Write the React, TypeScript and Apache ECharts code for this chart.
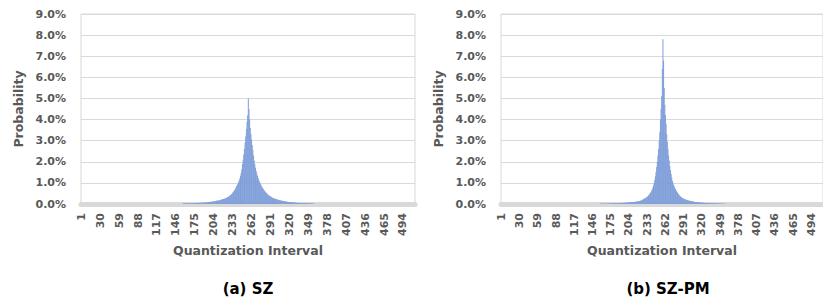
import React, { useEffect, useRef } from "react";
import * as echarts from "echarts";

// Category axis: quantization intervals 1..512
const categories: string[] = Array.from({ length: 512 }, (_, i) => String(i + 1));

// (a) SZ: probabilities (%) starting at category szStart
const szStart = 157;
const szValues = [
  0.02, 0.03, 0.02, 0.03, 0.03, 0.02, 0.03, 0.03, 0.04, 0.03,
  0.04, 0.03, 0.04, 0.04, 0.03, 0.04, 0.05, 0.04, 0.04, 0.05,
  0.05, 0.04, 0.05, 0.05, 0.06, 0.05, 0.05, 0.06, 0.06, 0.05,
  0.06, 0.07, 0.06, 0.07, 0.07, 0.08, 0.07, 0.08, 0.08, 0.09,
  0.10, 0.10, 0.11, 0.11, 0.12, 0.11, 0.12, 0.13, 0.13, 0.14,
  0.14, 0.15, 0.15, 0.16, 0.17, 0.17, 0.18, 0.19, 0.20, 0.21,
  0.22, 0.23, 0.24, 0.25, 0.26, 0.27, 0.29, 0.30, 0.32, 0.34,
  0.36, 0.38, 0.40, 0.43, 0.46, 0.49, 0.53, 0.57, 0.61, 0.66,
  0.72, 0.78, 0.84, 0.90, 0.96, 1.03, 1.12, 1.22, 1.34, 1.48,
  1.65, 1.90, 2.10, 2.35, 2.60, 2.90, 3.20, 3.55, 3.90, 4.20,
  5.00,
  4.50, 4.00, 3.60, 3.30, 3.05, 2.80, 2.55, 2.30, 2.05, 1.88,
  1.72, 1.58, 1.45, 1.34, 1.24, 1.15, 1.07, 1.00, 0.93, 0.87,
  0.81, 0.76, 0.71, 0.66, 0.62, 0.58, 0.54, 0.51, 0.48, 0.45,
  0.42, 0.40, 0.38, 0.36, 0.34, 0.32, 0.30, 0.29, 0.27, 0.26,
  0.25, 0.24, 0.23, 0.22, 0.21, 0.20, 0.19, 0.18, 0.17, 0.16,
  0.16, 0.15, 0.14, 0.14, 0.13, 0.13, 0.12, 0.12, 0.11, 0.11,
  0.10, 0.10, 0.09, 0.09, 0.09, 0.08, 0.08, 0.08, 0.07, 0.07,
  0.07, 0.06, 0.06, 0.06, 0.06, 0.05, 0.05, 0.05, 0.05, 0.05,
  0.04, 0.04, 0.05, 0.04, 0.04, 0.04, 0.03, 0.04, 0.03, 0.03,
  0.03, 0.03, 0.03, 0.02, 0.03, 0.02, 0.02, 0.02, 0.02, 0.02,
];

// (b) SZ-PM: probabilities (%) starting at category pmStart
const pmStart = 158;
const pmValues = [
  0.01, 0.01, 0.02, 0.01, 0.01, 0.02, 0.01, 0.02, 0.02, 0.01,
  0.02, 0.02, 0.01, 0.02, 0.02, 0.02, 0.03, 0.02, 0.02, 0.03,
  0.03, 0.02, 0.03, 0.03, 0.03, 0.03, 0.04, 0.03, 0.04, 0.04,
  0.04, 0.04, 0.05, 0.04, 0.05, 0.05, 0.05, 0.06, 0.05, 0.06,
  0.06, 0.06, 0.07, 0.06, 0.07, 0.07, 0.08, 0.07, 0.08, 0.08,
  0.09, 0.08, 0.09, 0.10, 0.10, 0.11, 0.10, 0.11, 0.12, 0.12,
  0.12, 0.13, 0.13, 0.14, 0.15, 0.16, 0.17, 0.19, 0.21, 0.23,
  0.25, 0.26, 0.28, 0.30, 0.32, 0.34, 0.37, 0.40, 0.44, 0.48,
  0.52, 0.57, 0.63, 0.70, 0.78, 0.88, 1.00, 1.15, 1.32, 1.52,
  1.75, 2.00, 2.30, 2.60, 3.00, 3.40, 4.00, 4.50, 5.10, 6.40,
  7.80,
  6.80, 5.50, 4.70, 4.20, 3.80, 3.30, 2.95, 2.60, 2.30, 2.05,
  1.80, 1.60, 1.42, 1.25, 1.10, 1.00, 0.91, 0.83, 0.76, 0.70,
  0.64, 0.59, 0.54, 0.50, 0.46, 0.42, 0.39, 0.36, 0.33, 0.31,
  0.29, 0.27, 0.25, 0.24, 0.22, 0.21, 0.20, 0.19, 0.18, 0.17,
  0.16, 0.15, 0.15, 0.14, 0.13, 0.13, 0.12, 0.12, 0.11, 0.11,
  0.10, 0.10, 0.09, 0.09, 0.09, 0.08, 0.08, 0.08, 0.07, 0.07,
  0.07, 0.06, 0.06, 0.06, 0.06, 0.05, 0.05, 0.05, 0.05, 0.04,
  0.04, 0.04, 0.04, 0.04, 0.03, 0.03, 0.03, 0.03, 0.03, 0.03,
  0.03, 0.02, 0.03, 0.02, 0.02, 0.02, 0.02, 0.02, 0.02, 0.02,
  0.02, 0.01, 0.02, 0.01, 0.01, 0.01, 0.01, 0.01, 0.01, 0.01,
];

const panelTitles = ["(a) SZ", "(b) SZ-PM"];
const xAxisTitle = "Quantization Interval";
const yAxisTitle = "Probability";

const FONT = "DejaVu Sans";
const GRAY = "#595959";

function expand(values: number[], start: number): number[] {
  return categories.map((_, i) => {
    const j = i + 1 - start;
    return j >= 0 && j < values.length ? values[j] : 0;
  });
}

export default function App() {
  const ref = useRef<HTMLDivElement>(null);
  useEffect(() => {
    if (!ref.current) return;
    const chart = echarts.init(ref.current, null, { renderer: "svg" });
    const lefts = [81, 501];
    const grids = lefts.map((l) => ({
      left: l,
      top: 14,
      width: 334,
      height: 190,
      show: true,
      borderColor: "#d9d9d9",
      borderWidth: 1,
      containLabel: false,
    }));
    const xAxes = lefts.map((_, k) => ({
      type: "category",
      gridIndex: k,
      data: categories,
      boundaryGap: true,
      name: xAxisTitle,
      nameLocation: "middle",
      nameGap: 38,
      nameTextStyle: { fontFamily: FONT, fontWeight: "bold", fontSize: 12.5, color: GRAY },
      axisLine: { show: true, lineStyle: { color: "#d9d9d9", width: 5 } },
      axisTick: { show: false },
      axisLabel: {
        interval: 28,
        rotate: 90,
        margin: 9,
        fontFamily: FONT,
        fontWeight: "bold",
        fontSize: 11,
        color: GRAY,
      },
      splitLine: { show: false },
    }));
    const yAxes = lefts.map((_, k) => ({
      type: "value",
      gridIndex: k,
      min: 0,
      max: 9,
      interval: 1,
      name: yAxisTitle,
      nameLocation: "middle",
      nameGap: 56,
      nameRotate: 90,
      nameTextStyle: { fontFamily: FONT, fontWeight: "bold", fontSize: 12.5, color: GRAY },
      axisLine: { show: false },
      axisTick: { show: false },
      axisLabel: {
        margin: 15,
        fontFamily: FONT,
        fontWeight: "bold",
        fontSize: 11,
        color: GRAY,
        formatter: (v: number) => v.toFixed(1) + "%",
      },
      splitLine: { show: true, lineStyle: { color: "#d9d9d9", width: 1 } },
    }));
    const series = [
      { data: expand(szValues, szStart) },
      { data: expand(pmValues, pmStart) },
    ].map((s, k) => ({
      type: "bar",
      xAxisIndex: k,
      yAxisIndex: k,
      data: s.data,
      barCategoryGap: "0%",
      itemStyle: { color: "#7f9ed9" },
    }));
    chart.setOption({
      animation: false,
      backgroundColor: "#ffffff",
      grid: grids,
      xAxis: xAxes,
      yAxis: yAxes,
      series,
      graphic: panelTitles.map((t, k) => ({
        type: "text",
        x: lefts[k] + 167,
        y: 289,
        style: {
          text: t,
          fontFamily: FONT,
          fontWeight: "bold",
          fontSize: 15,
          fill: "#000000",
          align: "center",
          verticalAlign: "middle",
        },
      })),
    });
    return () => chart.dispose();
  }, []);
  return (
    <div
      ref={ref}
      style={{ position: "fixed", left: 0, top: 0, width: 823, height: 301, background: "#fff" }}
    />
  );
}
